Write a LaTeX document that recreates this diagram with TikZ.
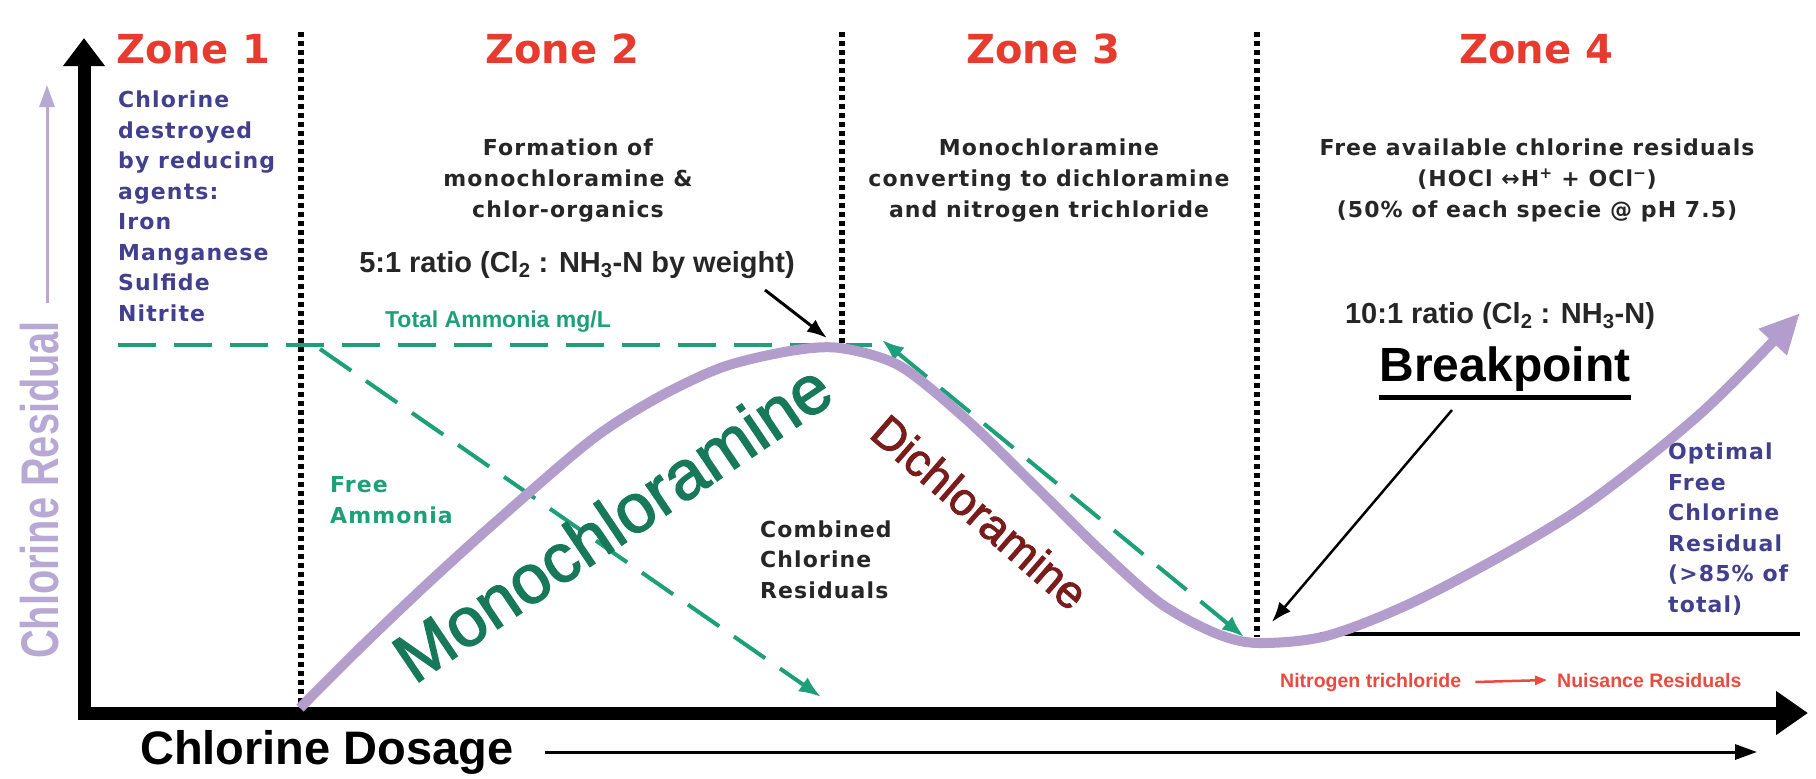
\documentclass[tikz,border=0pt]{standalone}
\usepackage{fontspec}
\usepackage{xcolor}
\usepackage{tikz}
\usetikzlibrary{arrows.meta,positioning}
\setmainfont{Liberation Sans}
\newfontfamily\headfont{DejaVu Sans}
\newfontfamily\widefont[LetterSpace=5]{DejaVu Sans}
\newfontfamily\narrowfont[FakeStretch=0.75]{Liberation Sans}
\newfontfamily\curvefont[FakeBold=2]{Liberation Sans}
\definecolor{zonered}{HTML}{E63B2E}
\definecolor{zoneblue}{HTML}{423F8F}
\definecolor{darktext}{HTML}{262626}
\definecolor{ammogreen}{HTML}{1DA07A}
\definecolor{monogreen}{HTML}{17785A}
\definecolor{dired}{HTML}{7A1C1C}
\definecolor{curvelav}{HTML}{B39DCC}
\definecolor{labellav}{HTML}{B8A8D4}
\definecolor{nuisred}{HTML}{E94A3F}
\tikzstyle{zonehead} = [font=\headfont\bfseries\fontsize{40}{40}\selectfont, text=zonered, anchor=base, inner sep=0pt]
\tikzstyle{zonetext} = [font=\widefont\bfseries\fontsize{22}{31}\selectfont, text=darktext, align=center, anchor=base, inner sep=0pt]
\tikzstyle{sidetext} = [font=\widefont\bfseries\fontsize{22}{30.5}\selectfont, align=left, anchor=base west, inner sep=0pt]
\tikzstyle{boldlabel} = [inner sep=0pt, anchor=base]
\tikzstyle{zoneline} = [line width=6pt, dash pattern=on 4.5pt off 4.5pt]
\tikzstyle{ammoline} = [ammogreen, line width=4pt, dash pattern=on 38pt off 18pt]
\tikzstyle{axis} = [line width=13pt, line join=miter]
\tikzstyle{pointer} = [-{Latex[length=20pt,width=15pt]}, line width=3pt]

\begin{document}
\begin{tikzpicture}[x=1pt, y=-1pt]
\useasboundingbox (0,0) rectangle (1816,779);

% zone borders and headings
\foreach \x/\b in {301/708, 842/343, 1257/637}
  \draw[zoneline] (\x,32) -- (\x,\b);
\foreach \n/\x in {1/193, 2/562, 3/1043, 4/1536}
  \node[zonehead] (zone\n) at (\x,63) {Zone \n};

% ammonia lines
\coordinate (ammo0) at (118,345);
\coordinate (ammo1) at (872,345);
\coordinate (free0) at (320,349);
\coordinate (free1) at (821,697);
\coordinate (di0) at (882,340);
\coordinate (di1) at (1244,637);
\draw[ammoline] (ammo0) -- (ammo1);
\draw[ammoline, -{Latex[length=22pt,width=17pt]}] (free0) -- (free1);
\draw[ammoline, {Latex[length=22pt,width=17pt]}-{Latex[length=22pt,width=17pt]}] (di0) -- (di1);

% axes
\coordinate (origin) at (84,713);
\coordinate (ytip) at (84,38);
\coordinate (xtip) at (1808,713);
\draw[axis, {Triangle[length=28pt,width=40pt]}-{Triangle[length=32pt,width=42pt]}] (ytip) -- (origin) -- (xtip);

% free chlorine base line
\coordinate (base0) at (1320,634);
\coordinate (base1) at (1800,634);
\draw[line width=4pt] (base0) -- (base1);

% residual curve
\draw[curvelav, line width=10pt, -{Triangle[length=40pt,width=36pt]}]
  plot[smooth, tension=0.5] coordinates {(300,708) (360,648) (425,586) (490,527) (590,441) (657,398) (723,367) (790,351) (840,348) (900,366) (967,420) (1033,484) (1100,550) (1160,603) (1215,633) (1258,643) (1330,635) (1430,594) (1575,512) (1700,414) (1800,313)};

% axis labels
\node[boldlabel, font=\narrowfont\bfseries\fontsize{53}{53}\selectfont, text=labellav, rotate=90] (resid) at (58,490) {Chlorine Residual};
\coordinate (residtail) at (47,303);
\coordinate (residtip) at (47,85);
\draw[labellav, line width=3pt, -{Triangle[length=22pt,width=15pt]}] (residtail) -- (residtip);
\node[boldlabel, anchor=base west, font=\bfseries\fontsize{47}{47}\selectfont] (dosage) at (140,764) {Chlorine Dosage};
\coordinate (dostail) at (545,752);
\coordinate (dostip) at (1757,752);
\draw[line width=3pt, -{Triangle[length=22pt,width=15pt]}] (dostail) -- (dostip);

% zone texts (anchored at the last line)
\node[sidetext, text=zoneblue] (z1text) at (118,321) {Chlorine\\destroyed\\by reducing\\agents:\\Iron\\Manganese\\Sulfide\\Nitrite};
\node[zonetext] (z2text) at (568,217) {Formation of\\monochloramine \&\\chlor-organics};
\node[zonetext] (z3text) at (1049,217) {Monochloramine\\converting to dichloramine\\and nitrogen trichloride};
\node[zonetext] (z4text) at (1537,217) {Free available chlorine residuals\\(HOCl ↔H\textsuperscript{+} + OCl\textsuperscript{−})\\(50\% of each specie @ pH 7.5)};

% ratios and breakpoint
\node[boldlabel, font=\bfseries\fontsize{29}{29}\selectfont, text=darktext] (ratio5) at (577,272) {5:1 ratio (Cl\textsubscript{2} : NH\textsubscript{3}-N by weight)};
\node[boldlabel, font=\bfseries\fontsize{29}{29}\selectfont, text=darktext] (ratio10) at (1500,323) {10:1 ratio (Cl\textsubscript{2} : NH\textsubscript{3}-N)};
\node[boldlabel, font=\bfseries\fontsize{48}{48}\selectfont] (bp) at (1505,381) {Breakpoint};
\draw[line width=5pt] ([yshift=-6pt]bp.south west) -- ([yshift=-6pt]bp.south east);
\coordinate (ptail) at (765,290);
\coordinate (ptip) at (827,338);
\draw[pointer] (ptail) -- (ptip);
\coordinate (bptail) at (1452,410);
\coordinate (bptip) at (1272,622);
\draw[pointer, line width=2.5pt] (bptail) -- (bptip);

% curve labels
\node[boldlabel, font=\bfseries\fontsize{23}{23}\selectfont, text=ammogreen] (totam) at (498,327) {Total Ammonia mg/L};
\node[sidetext, text=ammogreen] (freeam) at (330,523) {Free\\Ammonia};
\node[sidetext, text=darktext] (combined) at (760,598) {Combined\\Chlorine\\Residuals};
\node[sidetext, text=zoneblue] (optimal) at (1668,612) {Optimal\\Free\\Chlorine\\Residual\\(>85\% of\\total)};
\node[font=\curvefont\fontsize{69}{69}\selectfont, text=monogreen, rotate=34, inner sep=0pt] (mono) at (612,522) {Monochloramine};
\node[font=\curvefont\fontsize{46}{46}\selectfont, text=dired, rotate=-41, inner sep=0pt] (dichl) at (980,512) {Dichloramine};

% nuisance residuals
\node[boldlabel, anchor=base west, font=\bfseries\fontsize{19.5}{19.5}\selectfont, text=nuisred] (nitro) at (1280,687) {Nitrogen trichloride};
\node[boldlabel, anchor=base west, font=\bfseries\fontsize{19.5}{19.5}\selectfont, text=nuisred] (nuis) at (1557,687) {Nuisance Residuals};
\draw[nuisred, line width=2.5pt, -{Triangle[length=12pt,width=9pt]}] ([xshift=14pt]nitro.east) -- ([xshift=-10pt]nuis.west);
\end{tikzpicture}
\end{document}
